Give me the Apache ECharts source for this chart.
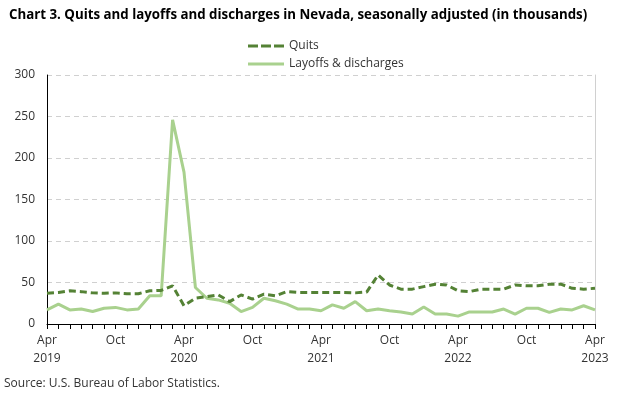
<!DOCTYPE html>
<html><head><meta charset="utf-8">
<script src="https://cdn.jsdelivr.net/npm/echarts@6/dist/echarts.min.js"></script>
<style>html,body{margin:0;padding:0;background:#fff}#c{width:632px;height:394px}</style>
</head><body><div id="c"></div>
<script>
var months = ['Jan','Feb','Mar','Apr','May','Jun','Jul','Aug','Sep','Oct','Nov','Dec'];
var categories = [];
(function(){ var y=2019, m=3; for (var i=0;i<49;i++){ categories.push(months[m]+' '+y); m++; if(m===12){m=0;y++;} } })();
var quits = [37,38,40,39,37.5,37,37.5,36.5,36.5,
  40,40.5,46,22,31,33,35,27,35,30,36,34,
  39,38,38,38,38,38,37.5,38.5,59,47,42,42,
  45,48,47,40,39,42,42,42,47,46,46,48,
  48,43,42,43];
var layoffs = [17,24,17,18,15,19,20,17,18,
  34,34,246,183,44,31,29,25,15,20,31,28,
  24,18,18,16,23,19,27,16,18,16,14.5,12,
  20.5,12,12,9.5,14.5,14.5,14.5,18,12,19,19,14,
  18,17,22,17];
var yTicks = [0,50,100,150,200,250,300];
var FONT = '"Open Sans", sans-serif';
var chart = echarts.init(document.getElementById('c'), null, {renderer:'canvas'});
chart.setOption({
  animation:false,
  textStyle:{fontFamily:FONT},
  title:{text:'Chart 3. Quits and layoffs and discharges in Nevada, seasonally adjusted (in thousands)',
    left:4, top:4, textStyle:{fontFamily:FONT, fontSize:13.3, fontWeight:'bold', color:'#000'}},
  legend:{orient:'vertical', left:243, top:35, itemGap:6, itemWidth:36, itemHeight:12,
    textStyle:{fontFamily:FONT, fontSize:12, color:'#333'},
    data:[{name:'Quits', icon:'path://M0,5 L10,5 L10,8 L0,8 Z M13,5 L23,5 L23,8 L13,8 Z M26,5 L36,5 L36,8 L26,8 Z'},
          {name:'Layoffs & discharges', icon:'path://M0,5 L36,5 L36,8 L0,8 Z'}]},
  grid:{left:47, right:37, top:75, bottom:70},
  xAxis:{type:'category', data:categories, boundaryGap:false,
    axisLine:{lineStyle:{color:'#000', width:1}},
    axisTick:{interval:0, length:5, lineStyle:{color:'#000'}},
    axisLabel:{interval:0, color:'#333', fontSize:12, fontFamily:FONT, margin:8, lineHeight:18,
      formatter:function(v, i){ var p=v.split(' '); if(i%6!==0) return ''; return p[0]==='Apr' ? p[0]+'\n'+p[1] : p[0]; }}},
  yAxis:[{type:'value', min:yTicks[0], max:yTicks[yTicks.length-1], interval:50,
    axisLine:{show:true, lineStyle:{color:'#000'}}, axisTick:{show:false},
    axisLabel:{color:'#333', fontSize:12, fontFamily:FONT, margin:12},
    splitLine:{lineStyle:{color:'#d0d0d0', type:[5,4], width:1}}},
    {type:'value', position:'right', min:0, max:300, interval:50,
    axisLine:{show:true, lineStyle:{color:'#d0d0d0'}}, axisTick:{show:false}, axisLabel:{show:false}, splitLine:{show:false}}],
  series:[
    {name:'Quits', type:'line', data:quits, showSymbol:false, symbol:'none', z:3,
      lineStyle:{color:'#548235', width:3, type:[7,4]}, itemStyle:{color:'#548235'}},
    {name:'Layoffs & discharges', type:'line', data:layoffs, showSymbol:false, symbol:'none', z:2,
      lineStyle:{color:'#a9d18e', width:3}, itemStyle:{color:'#a9d18e'}}
  ],
  graphic:[{type:'text', left:4, top:378, style:{text:'Source: U.S. Bureau of Labor Statistics.', fontFamily:FONT, fontSize:12, fill:'#333'}}]
});
</script></body></html>
